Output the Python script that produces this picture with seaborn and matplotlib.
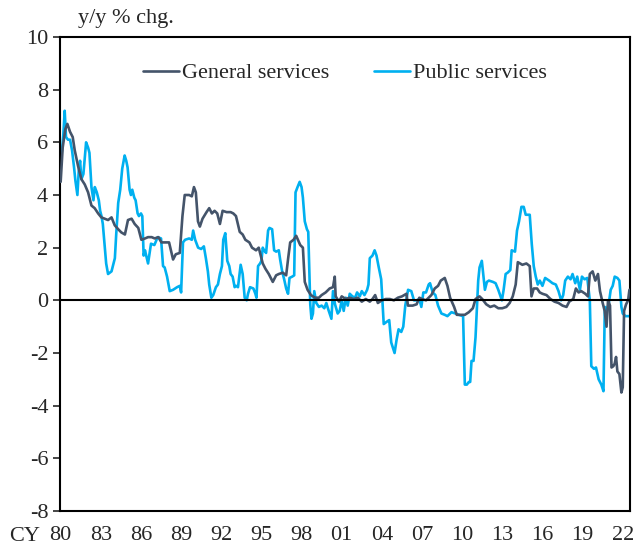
import matplotlib
matplotlib.use("Agg")
import matplotlib.pyplot as plt
import seaborn as sns
import pandas as pd

# Data (decimal years)
gen_years = [1980.00, 1980.15, 1980.35, 1980.5, 1980.7, 1980.9, 1981.05, 1981.3, 1981.55, 1981.8,
             1982.05, 1982.3, 1982.54, 1982.8, 1983.04, 1983.3, 1983.54, 1983.8, 1984.04, 1984.3,
             1984.53, 1984.8, 1985.03, 1985.3, 1985.53, 1985.8, 1986.03, 1986.3, 1986.53, 1986.8,
             1987.03, 1987.3, 1987.53, 1987.9, 1988.1, 1988.4, 1988.6, 1988.9, 1989.1, 1989.27,
             1989.6, 1989.8, 1989.96, 1990.1, 1990.26, 1990.4, 1990.6, 1990.9, 1991.1, 1991.3,
             1991.5, 1991.7, 1991.9, 1992.1, 1992.4, 1992.7, 1992.9, 1993.1, 1993.38, 1993.6,
             1993.8, 1994.1, 1994.3, 1994.6, 1994.8, 1995.1, 1995.3, 1995.55, 1995.85, 1996.1,
             1996.3, 1996.6, 1996.85, 1997.0, 1997.15, 1997.4, 1997.6, 1997.9, 1998.1, 1998.24,
             1998.45, 1998.7, 1999.0, 1999.3, 1999.5, 1999.8, 2000.1, 2000.35, 2000.48, 2000.55,
             2000.8, 2001.0, 2001.3, 2001.6, 2001.9, 2002.2, 2002.5, 2002.8, 2003.1, 2003.3,
             2003.5, 2003.7, 2004.0, 2004.3, 2004.6, 2004.9, 2005.2, 2005.5, 2005.84, 2005.95,
             2006.3, 2006.6, 2006.8, 2007.0, 2007.3, 2007.5, 2007.7, 2007.95, 2008.2, 2008.4,
             2008.7, 2008.9, 2009.1, 2009.4, 2009.6, 2009.9, 2010.2, 2010.5, 2010.8, 2011.0,
             2011.3, 2011.5, 2011.8, 2012.1, 2012.4, 2012.7, 2013.0, 2013.3, 2013.55, 2013.78,
             2014.0, 2014.16, 2014.5, 2014.8, 2015.05, 2015.18, 2015.35, 2015.6, 2015.8, 2016.0,
             2016.3, 2016.6, 2016.9, 2017.2, 2017.5, 2017.8, 2018.0, 2018.3, 2018.5, 2018.7,
             2018.9, 2019.2, 2019.4, 2019.54, 2019.75, 2019.95, 2020.15, 2020.3, 2020.5, 2020.65,
             2020.79, 2020.9, 2021.05, 2021.16, 2021.3, 2021.4, 2021.5, 2021.6, 2021.75, 2021.9,
             2022.0, 2022.1, 2022.25, 2022.4, 2022.5]
gen_vals = [4.5, 5.8, 6.5, 6.7, 6.4, 6.2, 5.7, 5.1, 4.6, 4.4,
            4.1, 3.6, 3.5, 3.3, 3.15, 3.1, 3.05, 3.15, 2.85, 2.7,
            2.58, 2.5, 3.05, 3.1, 2.9, 2.75, 2.3, 2.35, 2.4, 2.4,
            2.35, 2.4, 2.2, 2.2, 2.2, 1.55, 1.75, 1.8, 3.2, 4.0,
            4.0, 3.95, 4.3, 4.1, 3.0, 2.8, 3.1, 3.35, 3.5, 3.3,
            3.4, 3.3, 2.9, 3.4, 3.35, 3.35, 3.3, 3.2, 2.6, 2.5,
            2.3, 2.2, 2.0, 1.9, 2.0, 1.4, 1.2, 1.0, 0.7, 0.95,
            1.0, 1.05, 0.95, 1.6, 2.2, 2.3, 2.45, 2.1, 2.0, 0.7,
            0.4, 0.2, 0.1, 0.1, 0.2, 0.3, 0.45, 0.5, 0.9, 0.15,
            -0.05, 0.15, 0.05, 0.1, 0.05, 0.1, -0.05, 0.05, -0.05, 0.05,
            0.2, -0.1, 0.0, 0.05, 0.05, 0.0, 0.1, 0.15, 0.25, -0.2,
            -0.2, -0.15, 0.1, 0.05, 0.0, 0.1, 0.2, 0.45, 0.55, 0.75,
            0.85, 0.55, 0.1, -0.25, -0.55, -0.55, -0.55, -0.45, -0.3, 0.05,
            0.15, 0.05, -0.15, -0.25, -0.2, -0.3, -0.3, -0.25, -0.1, 0.15,
            0.6, 1.45, 1.35, 1.4, 1.3, 0.15, 0.45, 0.45, 0.3, 0.25,
            0.2, 0.05, -0.05, -0.1, -0.2, -0.25, -0.05, 0.05, 0.45, 0.3,
            0.35, 0.25, 0.15, 1.0, 1.1, 0.75, 1.0, 0.35, -0.1, -0.4,
            -1.0, 0.0, -0.2, -2.55, -2.5, -2.4, -2.15, -2.7, -2.8, -3.5,
            -3.3, -0.4, -0.15, 0.0, 0.4]

pub_years = [1980.0, 1980.1, 1980.2, 1980.3, 1980.4, 1980.55, 1980.7, 1980.85, 1981.0, 1981.1,
             1981.25, 1981.35, 1981.45, 1981.55, 1981.7, 1981.9, 1982.05, 1982.15, 1982.3, 1982.45,
             1982.55, 1982.7, 1982.85, 1982.95, 1983.05, 1983.15, 1983.3, 1983.4, 1983.54, 1983.8,
             1984.05, 1984.15, 1984.3, 1984.45, 1984.6, 1984.78, 1984.9, 1985.0, 1985.15, 1985.25,
             1985.35, 1985.5, 1985.6, 1985.75, 1985.85, 1986.0, 1986.1, 1986.2, 1986.3, 1986.53,
             1986.75, 1987.0, 1987.25, 1987.5, 1987.65, 1987.77, 1987.95, 1988.15, 1988.4, 1988.7,
             1988.9, 1989.0, 1989.14, 1989.3, 1989.6, 1989.8, 1989.9, 1990.05, 1990.27, 1990.5,
             1990.7, 1990.85, 1991.0, 1991.1, 1991.26, 1991.4, 1991.6, 1991.75, 1991.9, 1992.05,
             1992.15, 1992.3, 1992.45, 1992.6, 1992.7, 1992.85, 1993.0, 1993.1, 1993.25, 1993.45,
             1993.6, 1993.75, 1993.9, 1994.0, 1994.15, 1994.4, 1994.55, 1994.63, 1994.75, 1994.9,
             1995.0, 1995.1, 1995.2, 1995.35, 1995.5, 1995.6, 1995.8, 1995.95, 1996.1, 1996.3,
             1996.4, 1996.55, 1996.7, 1996.85, 1996.99, 1997.1, 1997.3, 1997.45, 1997.55, 1997.7,
             1997.86, 1998.0, 1998.1, 1998.24, 1998.4, 1998.5, 1998.55, 1998.65, 1998.74, 1998.85,
             1998.95, 1999.1, 1999.3, 1999.5, 1999.7, 1999.85, 2000.0, 2000.23, 2000.35, 2000.5,
             2000.7, 2000.85, 2001.0, 2001.15, 2001.3, 2001.45, 2001.6, 2001.8, 2002.0, 2002.15,
             2002.35, 2002.5, 2002.7, 2002.9, 2003.0, 2003.1, 2003.3, 2003.46, 2003.6, 2003.75,
             2003.95, 2004.14, 2004.4, 2004.55, 2004.7, 2004.95, 2005.1, 2005.25, 2005.45, 2005.6,
             2005.75, 2005.96, 2006.2, 2006.4, 2006.6, 2006.8, 2006.95, 2007.1, 2007.3, 2007.5,
             2007.6, 2007.8, 2008.0, 2008.2, 2008.45, 2008.7, 2008.9, 2009.2, 2009.5, 2009.75,
             2010.07, 2010.2, 2010.35, 2010.5, 2010.6, 2010.7, 2010.85, 2011.0, 2011.1, 2011.2,
             2011.3, 2011.47, 2011.6, 2011.7, 2011.85, 2012.0, 2012.3, 2012.5, 2012.7, 2012.97,
             2013.1, 2013.25, 2013.4, 2013.6, 2013.7, 2013.95, 2014.1, 2014.25, 2014.43, 2014.6,
             2014.75, 2015.05, 2015.2, 2015.35, 2015.5, 2015.65, 2015.8, 2016.0, 2016.2, 2016.5,
             2016.75, 2017.0, 2017.2, 2017.4, 2017.55, 2017.7, 2017.9, 2018.1, 2018.25, 2018.45,
             2018.6, 2018.8, 2018.95, 2019.15, 2019.35, 2019.54, 2019.65, 2019.85, 2020.0, 2020.2,
             2020.4, 2020.56, 2020.66, 2020.8, 2020.95, 2021.1, 2021.25, 2021.4, 2021.6, 2021.75,
             2021.9, 2022.0, 2022.2, 2022.4, 2022.5]
pub_vals = [5.3, 5.7, 6.3, 7.2, 6.2, 6.1, 6.1, 5.7, 5.05, 4.55,
            4.0, 4.9, 5.3, 4.6, 4.8, 6.0, 5.8, 5.6, 4.3, 3.8,
            4.3, 4.1, 3.8, 3.4, 3.2, 2.9, 2.0, 1.4, 1.0, 1.1,
            1.6, 2.5, 3.7, 4.2, 5.0, 5.5, 5.3, 5.05, 4.2, 4.0,
            4.2, 3.9, 3.8, 3.3, 3.2, 3.3, 3.2, 1.7, 1.9, 1.4,
            2.15, 2.1, 2.4, 2.35, 1.3, 1.25, 0.9, 0.35, 0.4, 0.5,
            0.55, 0.3, 2.2, 2.3, 2.35, 2.3, 2.65, 2.3, 2.0, 1.95,
            2.05, 1.6, 1.1, 0.6, 0.1, 0.2, 0.5, 0.6, 1.0, 1.3,
            2.3, 2.55, 1.5, 1.3, 1.0, 0.9, 0.5, 0.55, 0.5, 1.35,
            1.0, 0.1, 0.0, 0.25, 0.5, 0.45, 0.25, 0.1, 1.3, 1.4,
            1.5, 2.0, 1.9, 1.8, 2.65, 2.75, 2.7, 1.9, 1.85, 1.9,
            1.55, 1.1, 0.8, 0.45, 0.25, 0.85, 0.9, 0.95, 4.1, 4.3,
            4.5, 4.3, 3.9, 3.0, 2.7, 2.6, 1.7, -0.15, -0.7, -0.5,
            0.35, -0.1, -0.25, -0.2, -0.3, -0.1, -0.35, -0.7, 0.35, -0.15,
            -0.5, -0.4, 0.0, -0.4, 0.1, -0.2, 0.25, 0.15, 0.1, 0.3,
            0.15, 0.35, 0.2, 0.4, 0.6, 1.6, 1.7, 1.9, 1.7, 1.3,
            0.8, -0.9, -0.8, -0.75, -1.6, -2.0, -1.5, -1.1, -1.2, -1.0,
            -0.2, 0.4, 0.35, 0.0, 0.0, 0.05, -0.25, 0.3, 0.3, 0.6,
            0.65, 0.3, 0.2, -0.2, -0.5, -0.55, -0.6, -0.45, -0.5, -0.55,
            -0.6, -3.2, -3.2, -3.1, -3.1, -2.3, -2.3, -1.4, -0.3, 0.75,
            1.25, 1.5, 0.9, 0.4, 0.7, 0.75, 0.7, 0.65, 0.4, 0.0,
            0.4, 1.0, 1.05, 1.15, 1.9, 1.85, 2.65, 3.0, 3.55, 3.55,
            3.25, 3.25, 2.15, 1.3, 0.9, 0.6, 0.75, 0.55, 0.85, 0.75,
            0.65, 0.6, 0.35, 0.0, 0.2, 0.75, 0.9, 0.8, 1.0, 0.65,
            0.9, 0.4, 0.9, 0.8, 0.85, 0.0, -2.5, -2.6, -2.55, -3.0,
            -3.2, -3.45, -0.25, -0.35, -0.15, 0.4, 0.55, 0.9, 0.85, 0.75,
            -0.25, -0.5, -0.6, -0.6, -0.6]

tick_years = [1980, 1983, 1986, 1989, 1992, 1995, 1998, 2001, 2004, 2007, 2010, 2013, 2016, 2019, 2022]
tick_labels = ["80", "83", "86", "89", "92", "95", "98", "01", "04", "07", "10", "13", "16", "19", "22"]

sns.set_style("ticks")
plt.rcParams['font.family'] = ['Liberation Serif', 'DejaVu Serif']
plt.rcParams['axes.unicode_minus'] = False

fig = plt.figure(figsize=(6.41, 5.49), dpi=100)
ax = fig.add_axes([0.0936, 0.0692, 0.8894, 0.8634])

gen = pd.DataFrame({"year": gen_years, "val": gen_vals})
pub = pd.DataFrame({"year": pub_years, "val": pub_vals})

sns.lineplot(data=gen, x="year", y="val", ax=ax, color="#44546A", linewidth=1.9,
             label="General services", zorder=3)
sns.lineplot(data=pub, x="year", y="val", ax=ax, color="#00B0F0", linewidth=1.9,
             label="Public services", zorder=2)
ax.axhline(0, color="black", linewidth=1.5, zorder=4)

ax.set_xlim(1979.95, 2022.55)
ax.set_ylim(-8, 10)
ax.set_yticks(range(-8, 11, 2))
ax.set_xticks(tick_years)
ax.set_xticklabels(tick_labels)
ax.tick_params(axis="x", length=0, labelsize=16, pad=11)
ax.tick_params(axis="y", length=5, width=1.2, labelsize=16, direction="out")
ax.set_xlabel("")
ax.set_ylabel("")
for s in ax.spines.values():
    s.set_visible(True)
    s.set_linewidth(1.5)
    s.set_color("black")

fig.text(0.122, 0.967, "y/y % chg.", fontsize=16, va="center", ha="left")
fig.text(0.015, 0.022, "CY", fontsize=16, va="center", ha="left")

ax.legend(loc="center", bbox_to_anchor=(0.5, 0.924), ncol=2, frameon=False, fontsize=16,
          handlelength=1.6, handletextpad=0.15, columnspacing=2.0)

fig.savefig("out.png", dpi=100)
